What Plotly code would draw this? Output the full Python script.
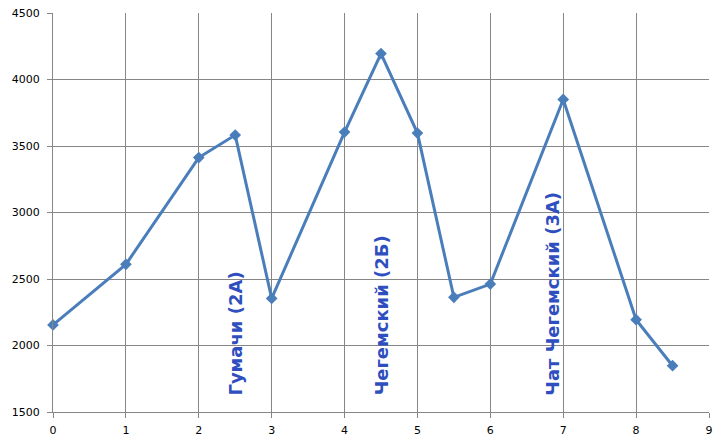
import plotly.graph_objects as go

x_vals = [0, 1, 2, 2.5, 3, 4, 4.5, 5, 5.5, 6, 7, 8, 8.5]
y_vals = [2155, 2610, 3413, 3582, 2354, 3605, 4195, 3597, 2362, 2462, 3850, 2194, 1848]

label_texts = ["Гумачи (2А)", "Чегемский (2Б)", "Чат Чегемский (3А)"]
label_x = [2.5, 4.5, 6.85]
label_y = [1610, 1610, 1610]

fig = go.Figure()
fig.add_trace(go.Scatter(
    x=x_vals, y=y_vals, mode="lines+markers",
    line=dict(color="#4a7ebb", width=3),
    marker=dict(symbol="diamond", size=9, color="#4a7ebb"),
    showlegend=False, cliponaxis=False,
))

for t, lx, ly in zip(label_texts, label_x, label_y):
    fig.add_annotation(
        x=lx, y=ly, text="<b>" + t + "</b>", textangle=-90,
        showarrow=False, xanchor="center", yanchor="bottom",
        font=dict(family="DejaVu Sans", size=18, color="#2f4fbf"),
    )

axis_common = dict(
    showgrid=True, gridcolor="#868686", gridwidth=1,
    showline=True, linecolor="#868686", linewidth=1,
    ticks="outside", tickcolor="#868686", ticklen=5,
    zeroline=False, automargin=False, ticklabeloverflow="allow",
    tickfont=dict(family="DejaVu Sans", size=11, color="#000000"),
)

fig.update_xaxes(range=[0, 9], dtick=1, ticklabelstandoff=3, **axis_common)
fig.update_yaxes(range=[1500, 4500], dtick=500, ticklabelstandoff=5, **axis_common)

# page body has an 8px margin; figure size compensates for it
fig.update_layout(
    width=714, height=438,
    margin=dict(l=45, r=13, t=5, b=34),
    paper_bgcolor="white", plot_bgcolor="white",
)

fig.write_html("out.html")
